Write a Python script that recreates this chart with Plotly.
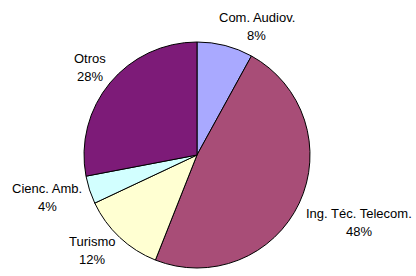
import math
import plotly.graph_objects as go

labels = ["Com. Audiov.", "Ing. Téc. Telecom.", "Turismo", "Cienc. Amb.", "Otros"]
values = [8, 48, 12, 4, 28]
colors = ["#A9A9FF", "#A84D77", "#FFFFD2", "#D2FFFF", "#7D1B78"]

W, H = 416, 276
cx, cy, R = 197, 155, 113

fig = go.Figure(go.Pie(
    labels=labels, values=values, sort=False, direction="clockwise", rotation=0,
    marker=dict(colors=colors, line=dict(color="black", width=1)),
    textinfo="none", hoverinfo="label+percent", showlegend=False,
    domain=dict(x=[(cx - R) / W, (cx + R) / W], y=[1 - (cy + R) / H, 1 - (cy - R) / H]),
))

# label placement derived from slice mid-angles, with small nudges
box_w = [80, 105, 55, 85, 40]
nudge_x = [20, 7, -5, 4, 0]
nudge_y = [-5, 13, 2, 3, -6]
total = sum(values)
cum = 0
ann = []
for lab, v, bw, nx, ny in zip(labels, values, box_w, nudge_x, nudge_y):
    mid = (cum + v / 2) / total * 2 * math.pi
    cum += v
    dx, dy = math.sin(mid), -math.cos(mid)
    px = cx + dx * (R + 6) + dx * bw / 2 + nx
    py = cy + dy * (R + 6) + dy * 18 / 2 + ny
    pct = f"{round(100 * v / total)}%"
    for txt, oy in ((lab, -9), (pct, 9)):
        ann.append(dict(x=px / W, y=1 - (py + oy) / H, xref="paper", yref="paper",
                        text=txt, showarrow=False, xanchor="center", yanchor="middle",
                        font=dict(family="Liberation Sans, Arial", size=13, color="black")))

fig.update_layout(width=W, height=H, margin=dict(l=0, r=0, t=0, b=0),
                  paper_bgcolor="white", plot_bgcolor="white", annotations=ann)
fig.write_html("out.html", config={"displayModeBar": False},
               post_script="document.body.style.margin='0';document.body.style.overflow='hidden';")
